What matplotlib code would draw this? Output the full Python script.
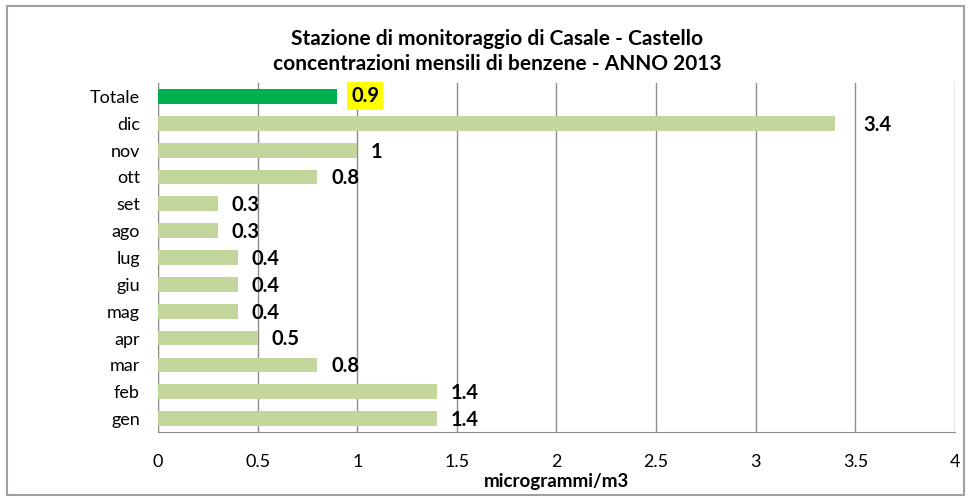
import matplotlib
matplotlib.use("Agg")
import matplotlib.pyplot as plt
from matplotlib.patches import Rectangle

plt.rcParams['font.family'] = ['Lato', 'DejaVu Sans']

# dati: concentrazioni mensili di benzene (microgrammi/m3)
mesi = ["gen", "feb", "mar", "apr", "mag", "giu", "lug", "ago", "set", "ott", "nov", "dic", "Totale"]
valori = [1.4, 1.4, 0.8, 0.5, 0.4, 0.4, 0.4, 0.3, 0.3, 0.8, 1, 3.4, 0.9]
etichette = ["1.4", "1.4", "0.8", "0.5", "0.4", "0.4", "0.4", "0.3", "0.3", "0.8", "1", "3.4", "0.9"]
x_ticks = [0, 0.5, 1, 1.5, 2, 2.5, 3, 3.5, 4]
x_tick_labels = ["0", "0.5", "1", "1.5", "2", "2.5", "3", "3.5", "4"]

colori = ["#C3D69B"] * 12 + ["#00B050"]

fig = plt.figure(figsize=(9.71, 4.98), dpi=100)
ax = fig.add_axes([0.1627, 0.1325, 0.8208, 0.7008])

pos = list(range(len(mesi)))
ax.barh(pos, valori, height=0.55, color=colori, zorder=3)

for i, (v, t) in enumerate(zip(valori, etichette)):
    dx = 20 if mesi[i] == "dic" else 10
    if mesi[i] == "Totale":
        ax.annotate(t, (v, i), xytext=(dx, 0), textcoords="offset points",
                    va="center", ha="left", fontsize=14.5, fontweight="bold",
                    bbox=dict(boxstyle="square,pad=0.2", fc="#FFFF00", ec="none"))
    else:
        ax.annotate(t, (v, i), xytext=(dx, -1), textcoords="offset points",
                    va="center", ha="left", fontsize=14.5, fontweight="bold")

ax.set_xlim(0, 4)
ax.set_ylim(-0.5, len(mesi) - 0.5)
ax.set_xticks(x_ticks)
ax.set_xticklabels(x_tick_labels, fontsize=13)
ax.set_yticks(pos)
ax.set_yticklabels(mesi, fontsize=13)
ax.tick_params(axis="y", length=0, pad=13)
ax.tick_params(axis="x", length=0, pad=16)

ax.grid(axis="x", color="#8C8C8C", linewidth=1, zorder=0)
for s in ["top", "right"]:
    ax.spines[s].set_visible(False)
ax.spines["left"].set_color("#8C8C8C")
ax.spines["bottom"].set_color("#8C8C8C")

ax.set_xlabel("microgrammi/m3", fontsize=13.5, fontweight="bold", labelpad=2)

fig.text(0.512, 0.897, "Stazione di monitoraggio di Casale - Castello\n"
         "concentrazioni mensili di benzene - ANNO 2013",
         ha="center", va="center", fontsize=15, fontweight="bold", linespacing=1.3)

fig.patches.append(Rectangle((0.007, 0.006), 0.986, 0.982, transform=fig.transFigure,
                             fill=False, ec="#A0A0A0", lw=1.5))

fig.savefig("out.png", dpi=100)
